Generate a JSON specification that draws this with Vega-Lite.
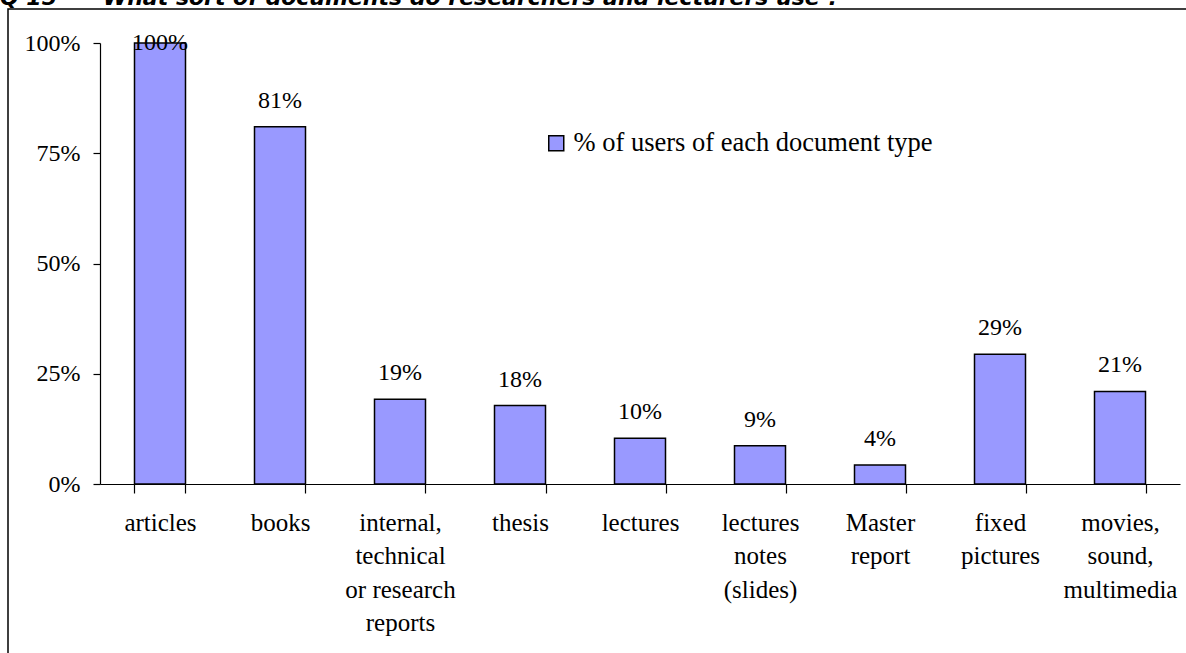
{
  "$schema": "https://vega.github.io/schema/vega-lite/v6.json",
  "autosize": "none",
  "padding": {"left": 8, "top": 9, "right": 0, "bottom": 0},
  "width": 1190,
  "height": 660,
  "title": {
    "text": "Q 15\u00a0\u00a0\u00a0\u00a0\u00a0\u00a0What sort of documents do researchers and lecturers use ?",
    "anchor": "start",
    "frame": "group",
    "orient": "top",
    "baseline": "alphabetic",
    "offset": -3,
    "dx": -8,
    "dy": 15,
    "font": "DejaVu Sans",
    "fontSize": 22,
    "fontWeight": "bold",
    "fontStyle": "italic",
    "color": "black"
  },
  "config": {
    "view": {"stroke": "black", "strokeWidth": 1.5},
    "font": "Liberation Serif"
  },
  "data": {
    "values": [
      {"doc": "articles", "share": 1.0, "series": "% of users of each document type"},
      {"doc": "books", "share": 0.81, "series": "% of users of each document type"},
      {"doc": "internal,\ntechnical\nor research\nreports", "share": 0.192, "series": "% of users of each document type"},
      {"doc": "thesis", "share": 0.178, "series": "% of users of each document type"},
      {"doc": "lectures", "share": 0.104, "series": "% of users of each document type"},
      {"doc": "lectures\nnotes\n(slides)", "share": 0.087, "series": "% of users of each document type"},
      {"doc": "Master\nreport", "share": 0.043, "series": "% of users of each document type"},
      {"doc": "fixed\npictures", "share": 0.294, "series": "% of users of each document type"},
      {"doc": "movies,\nsound,\nmultimedia", "share": 0.21, "series": "% of users of each document type"}
    ]
  },
  "encoding": {
    "x": {
      "field": "doc",
      "type": "nominal",
      "sort": null,
      "scale": {"range": [92, 1172], "paddingInner": 0.575, "paddingOuter": 0.2875},
      "axis": {
        "title": null,
        "offset": -185,
        "labelAngle": 0,
        "labelExpr": "split(datum.label, '\\n')",
        "labelFont": "Liberation Serif",
        "labelFontSize": 25,
        "labelColor": "black",
        "labelLineHeight": 33.5,
        "labelBaseline": "alphabetic",
        "labelPadding": 37,
        "labelLimit": 0,
        "tickBand": "extent",
        "tickSize": 9,
        "tickColor": "black",
        "domainColor": "black",
        "domainWidth": 1.2,
        "tickWidth": 1.2
      }
    },
    "y": {
      "field": "share",
      "type": "quantitative",
      "scale": {"domain": [0, 1], "range": [475, 34], "nice": false, "zero": true},
      "axis": {
        "title": null,
        "offset": -92,
        "values": [0, 0.25, 0.5, 0.75, 1],
        "format": ".0%",
        "grid": false,
        "labelFont": "Liberation Serif",
        "labelFontSize": 24,
        "labelColor": "black",
        "labelPadding": 13,
        "tickSize": 7,
        "tickColor": "black",
        "domainColor": "black",
        "domainWidth": 1.2,
        "tickWidth": 1.2
      }
    }
  },
  "layer": [
    {
      "mark": {"type": "bar", "stroke": "black", "strokeWidth": 1.5},
      "encoding": {
        "color": {
          "field": "series",
          "type": "nominal",
          "scale": {"range": ["#9999FF"]},
          "legend": {
            "title": null,
            "orient": "none",
            "legendX": 535,
            "legendY": 121,
            "padding": 0,
            "symbolType": "square",
            "symbolSize": 225,
            "symbolStrokeColor": "black",
            "symbolStrokeWidth": 1.5,
            "symbolFillColor": "#9999FF",
            "symbolOpacity": 1,
            "labelFont": "Liberation Serif",
            "labelFontSize": 26.5,
            "labelColor": "black",
            "labelOffset": 4,
            "labelLimit": 0
          }
        }
      }
    },
    {
      "transform": [{"filter": "datum.share < 1"}],
      "mark": {"type": "text", "baseline": "alphabetic", "dy": -19, "fontSize": 24, "font": "Liberation Serif", "color": "black"},
      "encoding": {"text": {"field": "share", "type": "quantitative", "format": ".0%"}}
    },
    {
      "transform": [{"filter": "datum.share >= 1"}],
      "mark": {"type": "text", "baseline": "alphabetic", "dy": 7, "fontSize": 24, "font": "Liberation Serif", "color": "black"},
      "encoding": {"text": {"field": "share", "type": "quantitative", "format": ".0%"}}
    }
  ]
}
